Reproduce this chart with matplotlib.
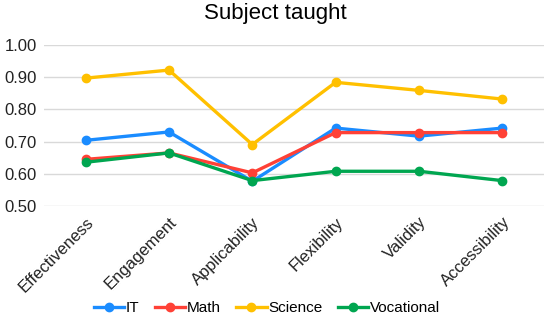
import matplotlib
matplotlib.use('Agg')
import matplotlib.pyplot as plt

plt.rcParams['font.family'] = ['Liberation Sans', 'DejaVu Sans']

categories = ['Effectiveness', 'Engagement', 'Applicability', 'Flexibility', 'Validity', 'Accessibility']
it_vals = [0.704, 0.730, 0.577, 0.742, 0.717, 0.742]
math_vals = [0.645, 0.665, 0.603, 0.728, 0.728, 0.728]
science_vals = [0.897, 0.922, 0.691, 0.884, 0.859, 0.832]
vocational_vals = [0.636, 0.665, 0.579, 0.608, 0.608, 0.579]
yticks = [0.50, 0.60, 0.70, 0.80, 0.90, 1.00]

fig = plt.figure(figsize=(5.5, 3.21), dpi=100)
ax = fig.add_axes([0.08, 0.358, 0.909, 0.502])

x = range(len(categories))
series = [('IT', it_vals, '#1a8cff'), ('Math', math_vals, '#ff4136'),
          ('Science', science_vals, '#ffc000'), ('Vocational', vocational_vals, '#00a650')]
for name, vals, col in series:
    ax.plot(x, vals, color=col, lw=2.4, marker='o', markersize=6, label=name)

ax.set_xlim(-0.5, len(categories) - 0.5)
ax.set_ylim(0.5, 1.0)
ax.set_yticks(yticks)
ax.set_yticklabels(['%.2f' % v for v in yticks], fontsize=12)
ax.set_xticks(list(x))
ax.set_xticklabels(categories, rotation=45, ha='right', rotation_mode='anchor', fontsize=12)
ax.grid(axis='y', color='#d9d9d9', lw=1)
ax.set_axisbelow(True)
for s in ax.spines.values():
    s.set_visible(False)
ax.tick_params(length=0, pad=5, colors='#222222')
ax.tick_params(axis='x', pad=6)

fig.suptitle('Subject taught', fontsize=16, y=0.99)
fig.legend(loc='lower center', ncol=4, frameon=False, fontsize=11,
           bbox_to_anchor=(0.485, -0.025), handlelength=2.0, columnspacing=1.0, handletextpad=0.1)

fig.savefig('out.png', dpi=100)
